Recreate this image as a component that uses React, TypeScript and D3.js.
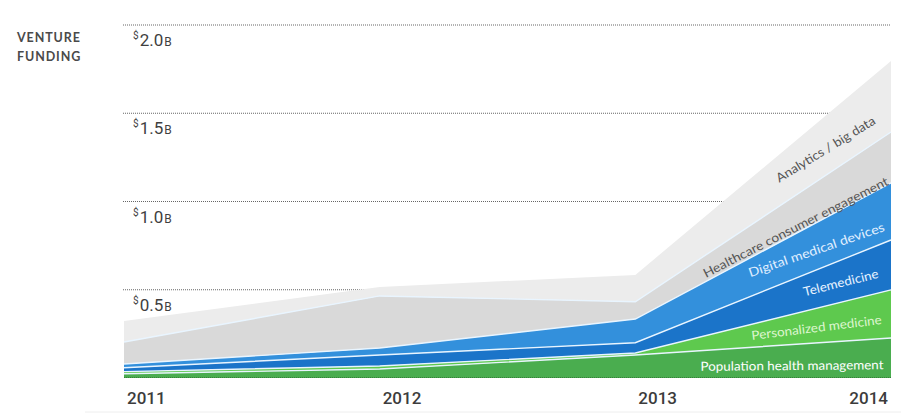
import React from "react";
import * as d3 from "d3";

const years = [2011, 2012, 2013, 2014];
const seriesKeys = [
  "Population health management",
  "Personalized medicine",
  "Telemedicine",
  "Digital medical devices",
  "Healthcare consumer engagement",
  "Analytics / big data",
];
// values in $B per year
const population = [0.024, 0.051, 0.13, 0.227];
const personalized = [0.012, 0.017, 0.012, 0.272];
const telemedicine = [0.022, 0.062, 0.058, 0.283];
const digitalDevices = [0.021, 0.04, 0.134, 0.323];
const consumerEngagement = [0.125, 0.295, 0.098, 0.289];
const analytics = [0.119, 0.051, 0.152, 0.402];
const yTicks = [0.5, 1.0, 1.5, 2.0];
const yearLabels = ["2011", "2012", "2013", "2014"];

const colors = ["#4aad4f", "#5ec94e", "#1b74c9", "#3390dc", "#d9d9d9", "#ececec"];
const labelColors = ["#ffffff", "#dff6d0", "#e6f2ff", "#e0efff", "#555555", "#555555"];
// label anchors in data coordinates (year, $B), angle, text length
const labelYear = [2013.613, 2013.711, 2013.808, 2013.714, 2013.635, 2013.753];
const labelValue = [0.045, 0.261, 0.516, 0.703, 0.832, 1.275];
const labelAngle = [-0.5, -7, -14, -19, -27, -31.5];
const labelLen = [183, 131, 77, 143, 206, 114];

export default function App() {
  const W = 901, H = 415;
  const x = d3.scaleLinear().domain([2011, 2014]).range([124, 891]);
  const y = d3.scaleLinear().domain([0, 2]).range([378, 25]);
  const all = [population, personalized, telemedicine, digitalDevices, consumerEngagement, analytics];
  const table = years.map((yr, i) => {
    const row: any = { year: yr };
    seriesKeys.forEach((k, j) => (row[k] = all[j][i]));
    return row;
  });
  const stack = d3.stack().keys(seriesKeys)(table as any);
  const area = d3
    .area<any>()
    .x((d) => x(d.data.year))
    .y0((d) => y(d[0]))
    .y1((d) => y(d[1]));
  const topLine = d3
    .line<any>()
    .x((d) => x(d.data.year))
    .y((d) => y(d[1]));

  return (
    <svg width={W} height={H} style={{ position: "absolute", left: 0, top: 0, background: "#fff" }}>
      <text x={17} y={42} fontFamily="Lato" fontWeight={700} fontSize={12.5} letterSpacing={0.9} fill="#4a4a4a">
        VENTURE
      </text>
      <text x={17} y={61} fontFamily="Lato" fontWeight={700} fontSize={12.5} letterSpacing={0.9} fill="#4a4a4a">
        FUNDING
      </text>
      {yTicks.map((t) => (
        <g key={t}>
          <line x1={123} x2={890} y1={y(t)} y2={y(t)} stroke="#666" strokeWidth={1} strokeDasharray="1,1" />
          <text x={133} y={y(t) + 21} fontFamily="Roboto" fill="#3f3f3f">
            <tspan fontSize={10} dy={-7}>$</tspan>
            <tspan fontSize={17} dy={7} dx={1}>{t.toFixed(1)}</tspan>
            <tspan fontSize={12} dx={1}>B</tspan>
          </text>
        </g>
      ))}
      {stack.map((s, i) => (
        <path key={s.key} d={area(s as any) || ""} fill={colors[i]} />
      ))}
      {stack.slice(0, stack.length - 1).map((s) => (
        <path key={s.key + "l"} d={topLine(s as any) || ""} fill="none" stroke="#e9f5ff" strokeWidth={1.4} />
      ))}
      <line x1={124} x2={891} y1={y(0) - 0.5} y2={y(0) - 0.5} stroke="#2d6e30" strokeWidth={1} strokeDasharray="1,1" opacity={0.7} />
      {seriesKeys.map((k, i) => (
        <text
          key={k + "t"}
          transform={`translate(${x(labelYear[i])},${y(labelValue[i])}) rotate(${labelAngle[i]})`}
          textAnchor="middle"
          fontFamily="Lato"
          fontSize={12.5}
          fill={labelColors[i]}
          textLength={labelLen[i]}
          lengthAdjust="spacingAndGlyphs"
        >
          {k}
        </text>
      ))}
      {yearLabels.map((l, i) => (
        <text
          key={l}
          x={i === 3 ? x(years[i]) - 3 : x(years[i]) + 3}
          y={404}
          textAnchor={i === 3 ? "end" : "start"}
          fontFamily="Roboto"
          fontWeight={500}
          fontSize={17}
          fill="#3c3c3c"
        >
          {l}
        </text>
      ))}
      <line x1={85} x2={901} y1={412} y2={412} stroke="#eeeeee" strokeWidth={1} />
    </svg>
  );
}
